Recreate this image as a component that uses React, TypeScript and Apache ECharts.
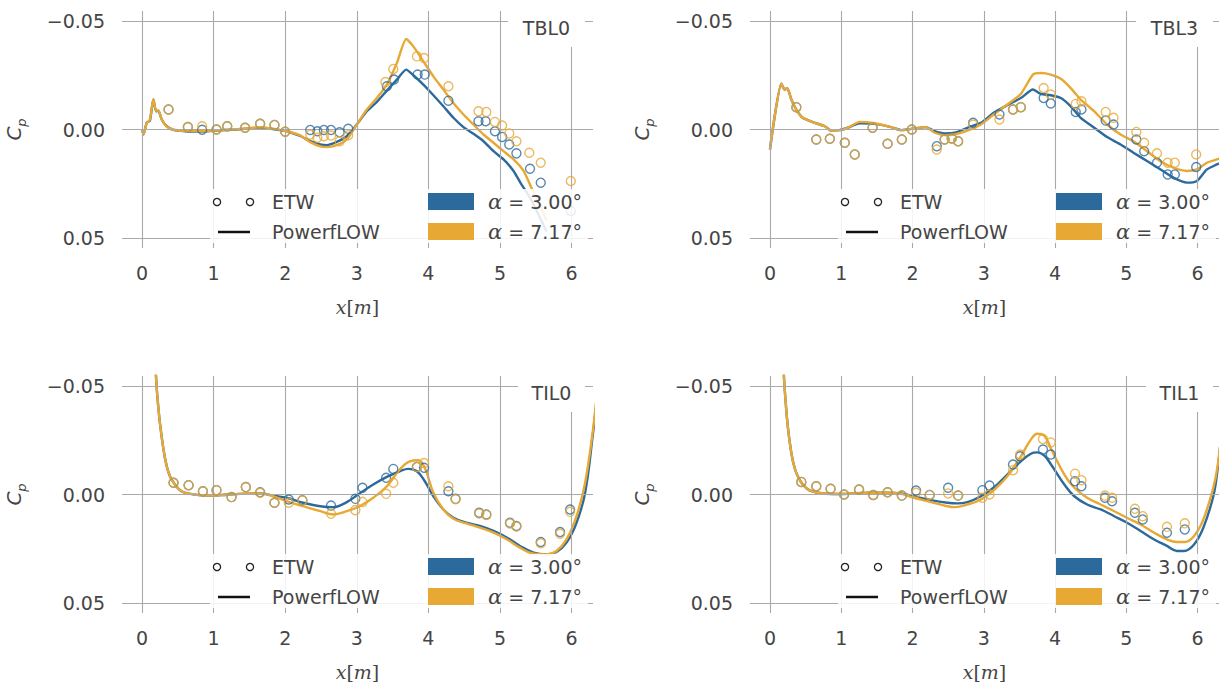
import React, { useEffect, useRef } from "react";
import * as echarts from "echarts";

// ---------- DATA ----------
const xTicks = [0, 1, 2, 3, 4, 5, 6];
const yTicks = [-0.05, 0, 0.05];
const panelNames = ["TBL0", "TBL3", "TIL0", "TIL1"];
const alphaLabels = ["\u03b1 = 3.00\u00b0", "\u03b1 = 7.17\u00b0"];

// TBL0
const tbl0PfA3 = [[0,0],[0.02,0.0023],[0.065,-0.0031],[0.11,-0.0041],[0.158,-0.0138],[0.196,-0.0084],[0.228,-0.0087],[0.275,-0.0046],[0.345,-0.0015],[0.44,0.0002],[0.6,0.0008],[0.86,0.001],[1.0,0.0005],[1.32,0],[1.65,-0.0008],[1.83,-0.0002],[2.02,0.0008],[2.21,0.003],[2.35,0.0054],[2.49,0.0069],[2.58,0.0072],[2.72,0.0057],[2.86,0.0031],[3.0,-0.0023],[3.14,-0.0084],[3.28,-0.0127],[3.42,-0.0179],[3.56,-0.023],[3.69,-0.0276],[3.79,-0.025],[3.93,-0.0207],[4.07,-0.0158],[4.21,-0.0107],[4.35,-0.0054],[4.49,-0.0011],[4.63,0.002],[4.77,0.0054],[4.91,0.01],[5.05,0.0138],[5.19,0.0191],[5.3,0.0253],[5.42,0.0314],[5.55,0.04],[5.65,0.047]];
const tbl0PfA7 = [[0,0],[0.02,0.0023],[0.065,-0.003],[0.11,-0.0045],[0.158,-0.014],[0.196,-0.0086],[0.228,-0.0088],[0.275,-0.0046],[0.345,-0.0013],[0.44,0.0001],[0.6,0.0006],[0.86,0.0008],[1.0,0.0004],[1.32,-0.0001],[1.65,-0.001],[1.83,-0.0004],[2.02,0.0008],[2.21,0.0027],[2.35,0.0058],[2.49,0.0078],[2.58,0.0081],[2.72,0.0072],[2.86,0.0046],[3.0,-0.0023],[3.14,-0.0092],[3.28,-0.0145],[3.42,-0.0207],[3.56,-0.0306],[3.69,-0.0417],[3.79,-0.0383],[3.93,-0.0314],[4.07,-0.0245],[4.21,-0.0184],[4.35,-0.0122],[4.49,-0.0069],[4.63,-0.0023],[4.77,0.0023],[4.91,0.0061],[5.05,0.01],[5.19,0.0138],[5.33,0.0191],[5.44,0.0268],[5.56,0.035],[5.65,0.042]];
const tbl0EtwA3 = [[0.37,-0.0092],[0.64,-0.0011],[0.84,0.0001],[1.04,0],[1.19,-0.0015],[1.44,-0.0008],[1.65,-0.0026],[1.85,-0.0021],[2.0,0.001],[2.35,0.0002],[2.45,0.0008],[2.54,0.0002],[2.64,0.0002],[2.76,0.0013],[2.88,-0.0003],[3.42,-0.0199],[3.52,-0.023],[3.85,-0.0253],[3.95,-0.0253],[4.28,-0.0133],[4.7,-0.0038],[4.8,-0.0038],[4.93,0.0008],[5.03,0.0034],[5.13,0.0069],[5.23,0.011],[5.42,0.0181],[5.57,0.0245],[5.99,0.0375]];
const tbl0EtwA7 = [[0.37,-0.0092],[0.64,-0.0011],[0.84,-0.0015],[1.04,0],[1.19,-0.0015],[1.44,-0.0008],[1.65,-0.0026],[1.85,-0.0021],[2.0,0.001],[2.35,0.0023],[2.45,0.0038],[2.54,0.0031],[2.64,0.0028],[2.76,0.0054],[2.88,0.0026],[3.4,-0.0219],[3.51,-0.0279],[3.84,-0.0337],[3.94,-0.0329],[4.28,-0.0199],[4.7,-0.0084],[4.81,-0.0081],[4.93,-0.0035],[5.03,-0.0018],[5.13,0.0018],[5.23,0.0054],[5.41,0.0107],[5.57,0.0153],[5.99,0.0237]];

// TBL3
const tbl3PfA3 = [[0,0.0092],[0.16,-0.0211],[0.205,-0.0184],[0.243,-0.019],[0.3,-0.0138],[0.37,-0.0092],[0.46,-0.0054],[0.63,-0.0031],[0.77,-0.0015],[0.86,0.0005],[0.975,0.0003],[1.09,-0.0008],[1.26,-0.0028],[1.47,-0.0026],[1.7,-0.0011],[1.84,0.0003],[1.98,-0.0003],[2.19,-0.0011],[2.31,0.0008],[2.45,0.0018],[2.59,0.0015],[2.77,-0.0008],[2.96,-0.0031],[3.14,-0.0077],[3.33,-0.0112],[3.52,-0.0145],[3.69,-0.0184],[3.8,-0.0164],[3.94,-0.0158],[4.08,-0.0145],[4.22,-0.0107],[4.36,-0.0054],[4.55,-0.0008],[4.73,0.0035],[4.92,0.0069],[5.1,0.0107],[5.29,0.0145],[5.48,0.0184],[5.66,0.0222],[5.85,0.0245],[5.99,0.0237],[6.13,0.0184],[6.27,0.0161],[6.35,0.015]];
const tbl3PfA7 = [[0,0.0092],[0.16,-0.0211],[0.205,-0.0184],[0.243,-0.019],[0.3,-0.0138],[0.37,-0.0092],[0.46,-0.0054],[0.63,-0.0031],[0.77,-0.0015],[0.86,0.0005],[0.975,0.0003],[1.09,-0.0008],[1.26,-0.0035],[1.47,-0.0029],[1.7,-0.0011],[1.84,0.0003],[1.98,-0.0003],[2.19,-0.0011],[2.31,0.0015],[2.45,0.0026],[2.59,0.0023],[2.77,0.0005],[2.96,-0.0023],[3.14,-0.0069],[3.33,-0.0115],[3.52,-0.0164],[3.69,-0.0253],[3.8,-0.026],[3.94,-0.0253],[4.08,-0.0234],[4.22,-0.0191],[4.36,-0.0138],[4.55,-0.0084],[4.73,-0.0023],[4.92,0.0023],[5.1,0.0054],[5.29,0.01],[5.48,0.0146],[5.66,0.0176],[5.85,0.0191],[5.99,0.0184],[6.13,0.0153],[6.27,0.0138],[6.35,0.013]];
const tbl3EtwA3 = [[0.37,-0.0103],[0.65,0.0046],[0.84,0.0043],[1.05,0.0061],[1.19,0.0115],[1.44,-0.0008],[1.65,0.0066],[1.85,0.0046],[1.99,0],[2.34,0.0077],[2.45,0.0046],[2.55,0.0041],[2.64,0.0054],[2.85,-0.0031],[3.22,-0.0069],[3.41,-0.0092],[3.52,-0.0103],[3.84,-0.0145],[3.94,-0.012],[4.29,-0.0081],[4.37,-0.0092],[4.71,-0.0041],[4.82,-0.0023],[5.14,0.0046],[5.25,0.01],[5.43,0.0153],[5.58,0.0207],[5.68,0.0207],[5.98,0.0173]];
const tbl3EtwA7 = [[0.37,-0.0103],[0.65,0.0046],[0.84,0.0043],[1.05,0.0061],[1.19,0.0115],[1.44,-0.0008],[1.65,0.0066],[1.85,0.0046],[1.99,0],[2.34,0.0092],[2.45,0.0046],[2.55,0.0041],[2.64,0.0054],[2.85,-0.0023],[3.22,-0.0046],[3.41,-0.0092],[3.52,-0.0103],[3.84,-0.0191],[3.94,-0.0161],[4.29,-0.0118],[4.37,-0.013],[4.71,-0.0081],[4.82,-0.0054],[5.14,0.0011],[5.25,0.0061],[5.43,0.011],[5.58,0.0153],[5.68,0.0153],[5.98,0.0115]];

// TIL0
const til0PfA3 = [[0.17,-0.075],[0.195,-0.0544],[0.214,-0.0452],[0.25,-0.0329],[0.3,-0.0207],[0.345,-0.013],[0.39,-0.0084],[0.46,-0.0046],[0.55,-0.0015],[0.67,-0.0003],[0.9,0.0005],[1.09,0.0003],[1.37,-0.0003],[1.65,-0.0005],[1.83,0.0005],[2.02,0.0015],[2.25,0.0038],[2.49,0.0054],[2.67,0.0058],[2.86,0.0035],[3.04,-0.0005],[3.23,-0.0046],[3.42,-0.0081],[3.6,-0.0107],[3.72,-0.0118],[3.84,-0.0107],[3.95,-0.0061],[4.07,0.0008],[4.21,0.0069],[4.35,0.0107],[4.53,0.013],[4.72,0.0145],[4.91,0.0168],[5.1,0.0199],[5.28,0.0237],[5.47,0.0268],[5.65,0.0276],[5.79,0.0265],[5.93,0.0222],[6.07,0.013],[6.19,-0.0008],[6.3,-0.0283],[6.34,-0.04]];
const til0PfA7 = [[0.17,-0.075],[0.195,-0.0544],[0.214,-0.0452],[0.25,-0.0329],[0.3,-0.0207],[0.345,-0.013],[0.39,-0.0084],[0.46,-0.0046],[0.55,-0.0015],[0.67,-0.0003],[0.9,0.0005],[1.09,0.0003],[1.37,-0.0003],[1.65,-0.0005],[1.83,0.0008],[2.02,0.0031],[2.25,0.0054],[2.49,0.0077],[2.67,0.0092],[2.86,0.0077],[3.04,0.0054],[3.23,0.0015],[3.42,-0.0038],[3.6,-0.0115],[3.74,-0.0153],[3.86,-0.0158],[3.95,-0.0123],[4.07,-0.0008],[4.21,0.0069],[4.35,0.0112],[4.53,0.0133],[4.72,0.0153],[4.91,0.0176],[5.1,0.0207],[5.28,0.0245],[5.47,0.0273],[5.65,0.0276],[5.79,0.026],[5.93,0.0207],[6.07,0.01],[6.19,-0.0054],[6.3,-0.0299],[6.34,-0.042]];
const til0EtwA3 = [[0.44,-0.0054],[0.65,-0.0043],[0.85,-0.0015],[1.04,-0.002],[1.25,0.0012],[1.45,-0.0034],[1.65,-0.001],[1.85,0.0038],[2.05,0.0023],[2.24,0.0026],[2.64,0.0051],[2.98,0.002],[3.08,-0.0031],[3.41,-0.0077],[3.51,-0.0118],[3.84,-0.0127],[3.94,-0.0123],[4.28,-0.0015],[4.38,0.002],[4.71,0.0084],[4.81,0.0092],[5.14,0.013],[5.23,0.0145],[5.57,0.0219],[5.84,0.0173],[5.98,0.0069]];
const til0EtwA7 = [[0.44,-0.0054],[0.65,-0.0043],[0.85,-0.0015],[1.04,-0.002],[1.25,0.0012],[1.45,-0.0034],[1.65,-0.0008],[1.85,0.0038],[2.05,0.0038],[2.24,0.0028],[2.64,0.0089],[2.98,0.0072],[3.08,0.0034],[3.41,-0.0003],[3.51,-0.0054],[3.84,-0.0127],[3.94,-0.0145],[4.28,-0.0038],[4.38,0.0022],[4.71,0.0088],[4.81,0.0094],[5.14,0.0134],[5.23,0.0148],[5.57,0.0225],[5.84,0.0181],[5.98,0.008]];

// TIL1
const til1PfA3 = [[0.17,-0.075],[0.196,-0.0544],[0.215,-0.045],[0.25,-0.0314],[0.3,-0.0191],[0.345,-0.0123],[0.39,-0.0084],[0.46,-0.0046],[0.55,-0.002],[0.67,-0.0008],[0.9,-0.0002],[1.09,-0.0003],[1.37,-0.0008],[1.65,-0.0008],[1.84,-0.0005],[2.02,0.0008],[2.26,0.0026],[2.49,0.0038],[2.63,0.0041],[2.77,0.0035],[2.96,0.0008],[3.15,-0.0035],[3.33,-0.0092],[3.52,-0.0153],[3.66,-0.0188],[3.75,-0.0194],[3.85,-0.0179],[3.96,-0.013],[4.13,-0.0046],[4.27,0.0008],[4.45,0.0046],[4.64,0.0069],[4.83,0.01],[5.01,0.013],[5.2,0.0168],[5.39,0.0207],[5.57,0.0237],[5.71,0.026],[5.81,0.026],[5.95,0.023],[6.08,0.0153],[6.22,0.0008],[6.28,-0.0115],[6.34,-0.03]];
const til1PfA7 = [[0.17,-0.075],[0.196,-0.0544],[0.215,-0.045],[0.25,-0.0314],[0.3,-0.0191],[0.345,-0.0123],[0.39,-0.0084],[0.46,-0.0046],[0.55,-0.002],[0.67,-0.0008],[0.9,-0.0002],[1.09,-0.0003],[1.37,-0.0008],[1.65,-0.0008],[1.84,-0.0003],[2.02,0.0015],[2.26,0.0035],[2.49,0.0054],[2.6,0.0058],[2.77,0.0046],[2.96,0.0023],[3.15,-0.0023],[3.33,-0.0084],[3.52,-0.0176],[3.66,-0.0253],[3.75,-0.028],[3.85,-0.0271],[3.96,-0.0199],[4.13,-0.0092],[4.27,-0.0031],[4.45,0.0015],[4.64,0.0046],[4.83,0.0077],[5.01,0.0107],[5.2,0.0138],[5.39,0.0176],[5.57,0.0207],[5.71,0.0219],[5.82,0.0219],[5.95,0.0191],[6.08,0.0115],[6.22,-0.0031],[6.28,-0.013],[6.34,-0.03]];
const til1EtwA3 = [[0.44,-0.0058],[0.65,-0.0038],[0.85,-0.0026],[1.04,0],[1.25,-0.0023],[1.45,0.0002],[1.65,-0.001],[1.85,0.0005],[2.05,-0.0018],[2.24,0.0002],[2.5,-0.0031],[2.64,0.0005],[2.98,-0.002],[3.08,-0.0041],[3.41,-0.0138],[3.51,-0.0176],[3.83,-0.0207],[3.94,-0.0184],[4.28,-0.0061],[4.37,-0.0038],[4.7,0.0015],[4.8,0.0031],[5.12,0.0084],[5.23,0.0115],[5.57,0.0176],[5.82,0.0161]];
const til1EtwA7 = [[0.44,-0.0058],[0.65,-0.0038],[0.85,-0.0026],[1.04,0],[1.25,-0.0023],[1.45,0.0002],[1.65,-0.001],[1.85,0.0005],[2.05,-0.0008],[2.24,0.0002],[2.5,-0.0005],[2.64,0.0005],[2.98,0.0015],[3.08,0],[3.41,-0.0112],[3.51,-0.0184],[3.83,-0.0256],[3.94,-0.024],[4.28,-0.0096],[4.37,-0.0066],[4.7,0.0005],[4.8,0.0015],[5.12,0.0066],[5.23,0.01],[5.57,0.0149],[5.82,0.0133]];

const pfA3 = [tbl0PfA3, tbl3PfA3, til0PfA3, til1PfA3];
const pfA7 = [tbl0PfA7, tbl3PfA7, til0PfA7, til1PfA7];
const etwA3 = [tbl0EtwA3, tbl3EtwA3, til0EtwA3, til1EtwA3];
const etwA7 = [tbl0EtwA7, tbl3EtwA7, til0EtwA7, til1EtwA7];

// ---------- STYLE / LAYOUT ----------
const BLUE = "#2d6a9c";
const ORANGE = "#e7a834";
const GRIDC = "#a9a9a9";
const TXT = "#454545";
const FONT = "DejaVu Sans";
const panelPos = [
  { left: 122, top: 11, boxL: 386 },
  { left: 750, top: 11, boxL: 386 },
  { left: 122, top: 376, boxL: 396 },
  { left: 750, top: 376, boxL: 396 },
];
const GW = 471;
const GH = 237;
const XMIN = -0.28;
const XMAX = 6.3;
const YLIM = 0.0546;

function fmtY(v: number) {
  if (Math.abs(v) < 1e-9) return "0.00";
  return (v < 0 ? "\u2212" : "") + Math.abs(v).toFixed(2);
}

function buildOption() {
  const grid: any[] = [];
  const xAxis: any[] = [];
  const yAxis: any[] = [];
  const series: any[] = [];
  const graphic: any[] = [];

  panelPos.forEach((p, i) => {
    grid.push({ left: p.left, top: p.top, width: GW, height: GH, containLabel: false });
    xAxis.push({
      type: "value", gridIndex: i, min: XMIN, max: XMAX,
      axisLine: { show: false }, axisTick: { show: false }, splitLine: { show: false },
      axisLabel: { customValues: xTicks, margin: 15, fontSize: 19, fontFamily: FONT, color: TXT, formatter: (v: number) => String(Math.round(v)) },
      name: "{i|x}[{i|m}]", nameLocation: "middle", nameGap: 49,
      nameTextStyle: { fontSize: 19, fontFamily: "DejaVu Serif", color: TXT, rich: { i: { fontStyle: "italic", fontSize: 19, fontFamily: "DejaVu Serif", color: TXT } } },
    });
    yAxis.push({
      type: "value", gridIndex: i, inverse: true, min: -YLIM, max: YLIM,
      axisLine: { show: false }, axisTick: { show: false }, splitLine: { show: false },
      axisLabel: { customValues: yTicks, margin: 17, fontSize: 19, fontFamily: FONT, color: TXT, formatter: fmtY },
      name: "{c|C}{p|p}", nameLocation: "middle", nameGap: 94,
      nameTextStyle: { color: TXT, rich: { c: { fontSize: 20, fontStyle: "italic", fontFamily: FONT, color: TXT, lineHeight: 24, verticalAlign: "top" }, p: { fontSize: 13, fontStyle: "italic", fontFamily: FONT, color: TXT, lineHeight: 13, verticalAlign: "bottom" } } },
    });
    series.push({
      type: "line", xAxisIndex: i, yAxisIndex: i, data: [], z: 1, silent: true,
      markLine: {
        silent: true, symbol: ["none", "none"], label: { show: false },
        lineStyle: { color: GRIDC, width: 1.1, type: "solid" },
        emphasis: { disabled: true },
        data: [...xTicks.map((v) => ({ xAxis: v })), ...yTicks.map((v) => ({ yAxis: v }))],
      },
    });
    const sm = i < 2 ? 0.2 : 0.4;
    series.push({ type: "line", xAxisIndex: i, yAxisIndex: i, data: pfA3[i], showSymbol: false, smooth: sm, z: 3, lineStyle: { color: BLUE, width: 2.4 }, itemStyle: { color: BLUE } });
    series.push({ type: "line", xAxisIndex: i, yAxisIndex: i, data: pfA7[i], showSymbol: false, smooth: sm, z: 4, lineStyle: { color: ORANGE, width: 2.4 }, itemStyle: { color: ORANGE } });
    series.push({ type: "scatter", xAxisIndex: i, yAxisIndex: i, data: etwA3[i], symbol: "circle", symbolSize: 9, z: 5, itemStyle: { color: "rgba(0,0,0,0)", borderColor: BLUE, borderWidth: 1.4 } });
    series.push({ type: "scatter", xAxisIndex: i, yAxisIndex: i, data: etwA7[i], symbol: "circle", symbolSize: 9, z: 6, itemStyle: { color: "rgba(0,0,0,0)", borderColor: ORANGE, borderWidth: 1.4 } });

    const L = p.left, T = p.top;
    // panel label box
    graphic.push({ type: "rect", z: 100, shape: { x: L + p.boxL, y: T - 3, width: 463 - p.boxL, height: 39 }, style: { fill: "#ffffff" } });
    graphic.push({ type: "text", z: 101, x: L + (p.boxL + 463) / 2, y: T + 17, style: { text: panelNames[i], fontSize: 19, fontFamily: FONT, fill: TXT, align: "center", verticalAlign: "middle" } });
    // legend
    graphic.push({ type: "rect", z: 100, shape: { x: L + 88, y: T + 178, width: 378, height: 54 }, style: { fill: "rgba(255,255,255,0.86)" } });
    graphic.push({ type: "circle", z: 101, shape: { cx: L + 95, cy: T + 191, r: 3.6 }, style: { fill: "none", stroke: "#222", lineWidth: 1.3 } });
    graphic.push({ type: "circle", z: 101, shape: { cx: L + 128, cy: T + 191, r: 3.6 }, style: { fill: "none", stroke: "#222", lineWidth: 1.3 } });
    graphic.push({ type: "text", z: 101, x: L + 150, y: T + 191, style: { text: "ETW", fontSize: 19, fontFamily: FONT, fill: TXT, align: "left", verticalAlign: "middle" } });
    graphic.push({ type: "line", z: 101, shape: { x1: L + 96, y1: T + 221, x2: L + 128, y2: T + 221 }, style: { stroke: "#111", lineWidth: 2.5 } });
    graphic.push({ type: "text", z: 101, x: L + 150, y: T + 221, style: { text: "PowerfLOW", fontSize: 19, fontFamily: FONT, fill: TXT, align: "left", verticalAlign: "middle" } });
    graphic.push({ type: "rect", z: 101, shape: { x: L + 306, y: T + 182, width: 46, height: 17 }, style: { fill: BLUE } });
    graphic.push({ type: "rect", z: 101, shape: { x: L + 306, y: T + 212, width: 46, height: 17 }, style: { fill: ORANGE } });
    alphaLabels.forEach((lab, k) => {
      graphic.push({
        type: "text", z: 101, x: L + 366, y: T + 191 + 30 * k,
        style: {
          text: "{a|\u03b1}{r|" + lab.slice(1) + "}", align: "left", verticalAlign: "middle",
          rich: { a: { fontSize: 21, fontStyle: "italic", fontFamily: "DejaVu Serif", fill: TXT }, r: { fontSize: 19, fontFamily: FONT, fill: TXT } },
        },
      });
    });
  });

  return { animation: false, backgroundColor: "#ffffff", grid, xAxis, yAxis, series, graphic };
}

export default function App() {
  const ref = useRef<HTMLDivElement>(null);
  useEffect(() => {
    if (!ref.current) return;
    const chart = echarts.init(ref.current, null, { renderer: "svg" });
    chart.setOption(buildOption() as any);
    return () => chart.dispose();
  }, []);
  return <div ref={ref} style={{ position: "fixed", left: 0, top: 0, width: 1219, height: 686, background: "#fff" }} />;
}
